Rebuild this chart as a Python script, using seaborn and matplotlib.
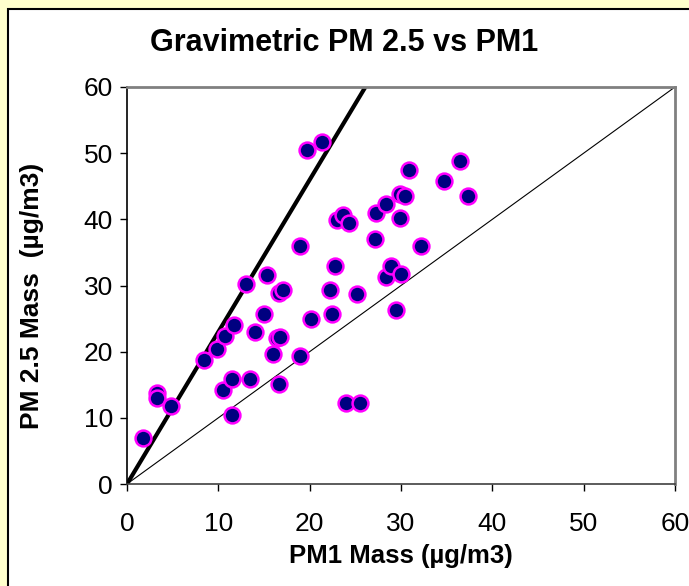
import matplotlib
matplotlib.use("Agg")
import matplotlib.pyplot as plt
import matplotlib.patches as mpatches
import pandas as pd
import seaborn as sns

# PM1 vs PM2.5 gravimetric mass
pm1 = [1.7, 3.3, 3.3, 4.8, 8.4, 9.9, 10.5, 10.7, 11.5, 11.5, 11.7, 13.0, 13.5,
       14.0, 15.0, 15.3, 16.0, 16.4, 16.7, 16.6, 16.6, 17.1, 18.9, 18.9, 19.7,
       20.1, 21.4, 22.2, 22.4, 22.8, 23.0, 23.7, 24.3, 24.0, 25.5, 25.2, 27.1,
       27.3, 28.4, 28.4, 28.9, 29.4, 29.9, 30.4, 29.9, 30.0, 30.9, 32.2, 34.7,
       36.5, 37.3]
pm25 = [6.9, 13.8, 13.0, 11.8, 18.7, 20.4, 14.2, 22.4, 15.8, 10.5, 24.0, 30.2,
        15.8, 23.0, 25.7, 31.6, 19.7, 22.0, 22.2, 15.1, 28.9, 29.3, 19.3, 36.0,
        50.5, 25.0, 51.7, 29.3, 25.7, 33.0, 39.9, 40.7, 39.5, 12.2, 12.2, 28.7,
        37.0, 40.9, 42.3, 31.3, 33.0, 26.3, 43.9, 43.5, 40.2, 31.7, 47.5, 36.0,
        45.8, 48.8, 43.6]

# reference lines: steep fit line and 1:1 line
fit_x = [0, 26.1]
fit_y = [0, 60]
one_x = [0, 60]
one_y = [0, 60]

df = pd.DataFrame({"pm1": pm1, "pm25": pm25})

sns.set_style("white")
plt.rcParams["font.family"] = ["Liberation Sans", "DejaVu Sans"]
plt.rcParams["text.color"] = "black"
plt.rcParams["axes.labelcolor"] = "black"
plt.rcParams["xtick.color"] = "black"
plt.rcParams["ytick.color"] = "black"

fig = plt.figure(figsize=(6.89, 5.86), dpi=100)
fig.patch.set_facecolor("#FFFFCC")

# white chart area with dark border on the left/top
frame = mpatches.Rectangle((8 / 689, -0.01), 1.0, 1 - 9 / 586 + 0.01,
                           transform=fig.transFigure, facecolor="white",
                           edgecolor="black", linewidth=1.5, zorder=-10)
fig.add_artist(frame)

ax = fig.add_axes([127 / 689, 102 / 586, 548 / 689, 397 / 586])
ax.set_facecolor("white")

ax.plot(one_x, one_y, color="black", linewidth=0.8, zorder=2)
ax.plot(fit_x, fit_y, color="black", linewidth=3, zorder=2)

sns.scatterplot(data=df, x="pm1", y="pm25", ax=ax, s=130, color="#000080",
                edgecolor="#FF00FF", linewidth=1.8, zorder=3, legend=False)

ax.set_xlim(0, 60)
ax.set_ylim(0, 60)
ax.set_xticks(range(0, 61, 10))
ax.set_yticks(range(0, 61, 10))

for side in ["top", "right"]:
    ax.spines[side].set_color("#808080")
    ax.spines[side].set_linewidth(2)
ax.spines["left"].set_color("black")
ax.spines["left"].set_linewidth(1.2)
ax.spines["bottom"].set_color("#404040")
ax.spines["bottom"].set_linewidth(1.2)

ax.tick_params(axis="both", direction="out", length=5, width=1, color="black",
               labelsize=19, left=True, bottom=True)
ax.tick_params(axis="x", pad=15)
ax.tick_params(axis="y", pad=5)

ax.set_xlabel("PM1 Mass (µg/m3)", fontsize=18.5, fontweight="bold")
ax.set_ylabel("PM 2.5 Mass  (µg/m3)", fontsize=19, fontweight="bold")
ax.xaxis.set_label_coords(0.5, -0.152)
ax.yaxis.set_label_coords(-0.152, 0.474)

fig.text(0.5, 1 - 43 / 586, "Gravimetric PM 2.5 vs PM1", ha="center", va="center",
         fontsize=22, fontweight="bold")

fig.savefig("out.png", dpi=100, facecolor=fig.get_facecolor())
